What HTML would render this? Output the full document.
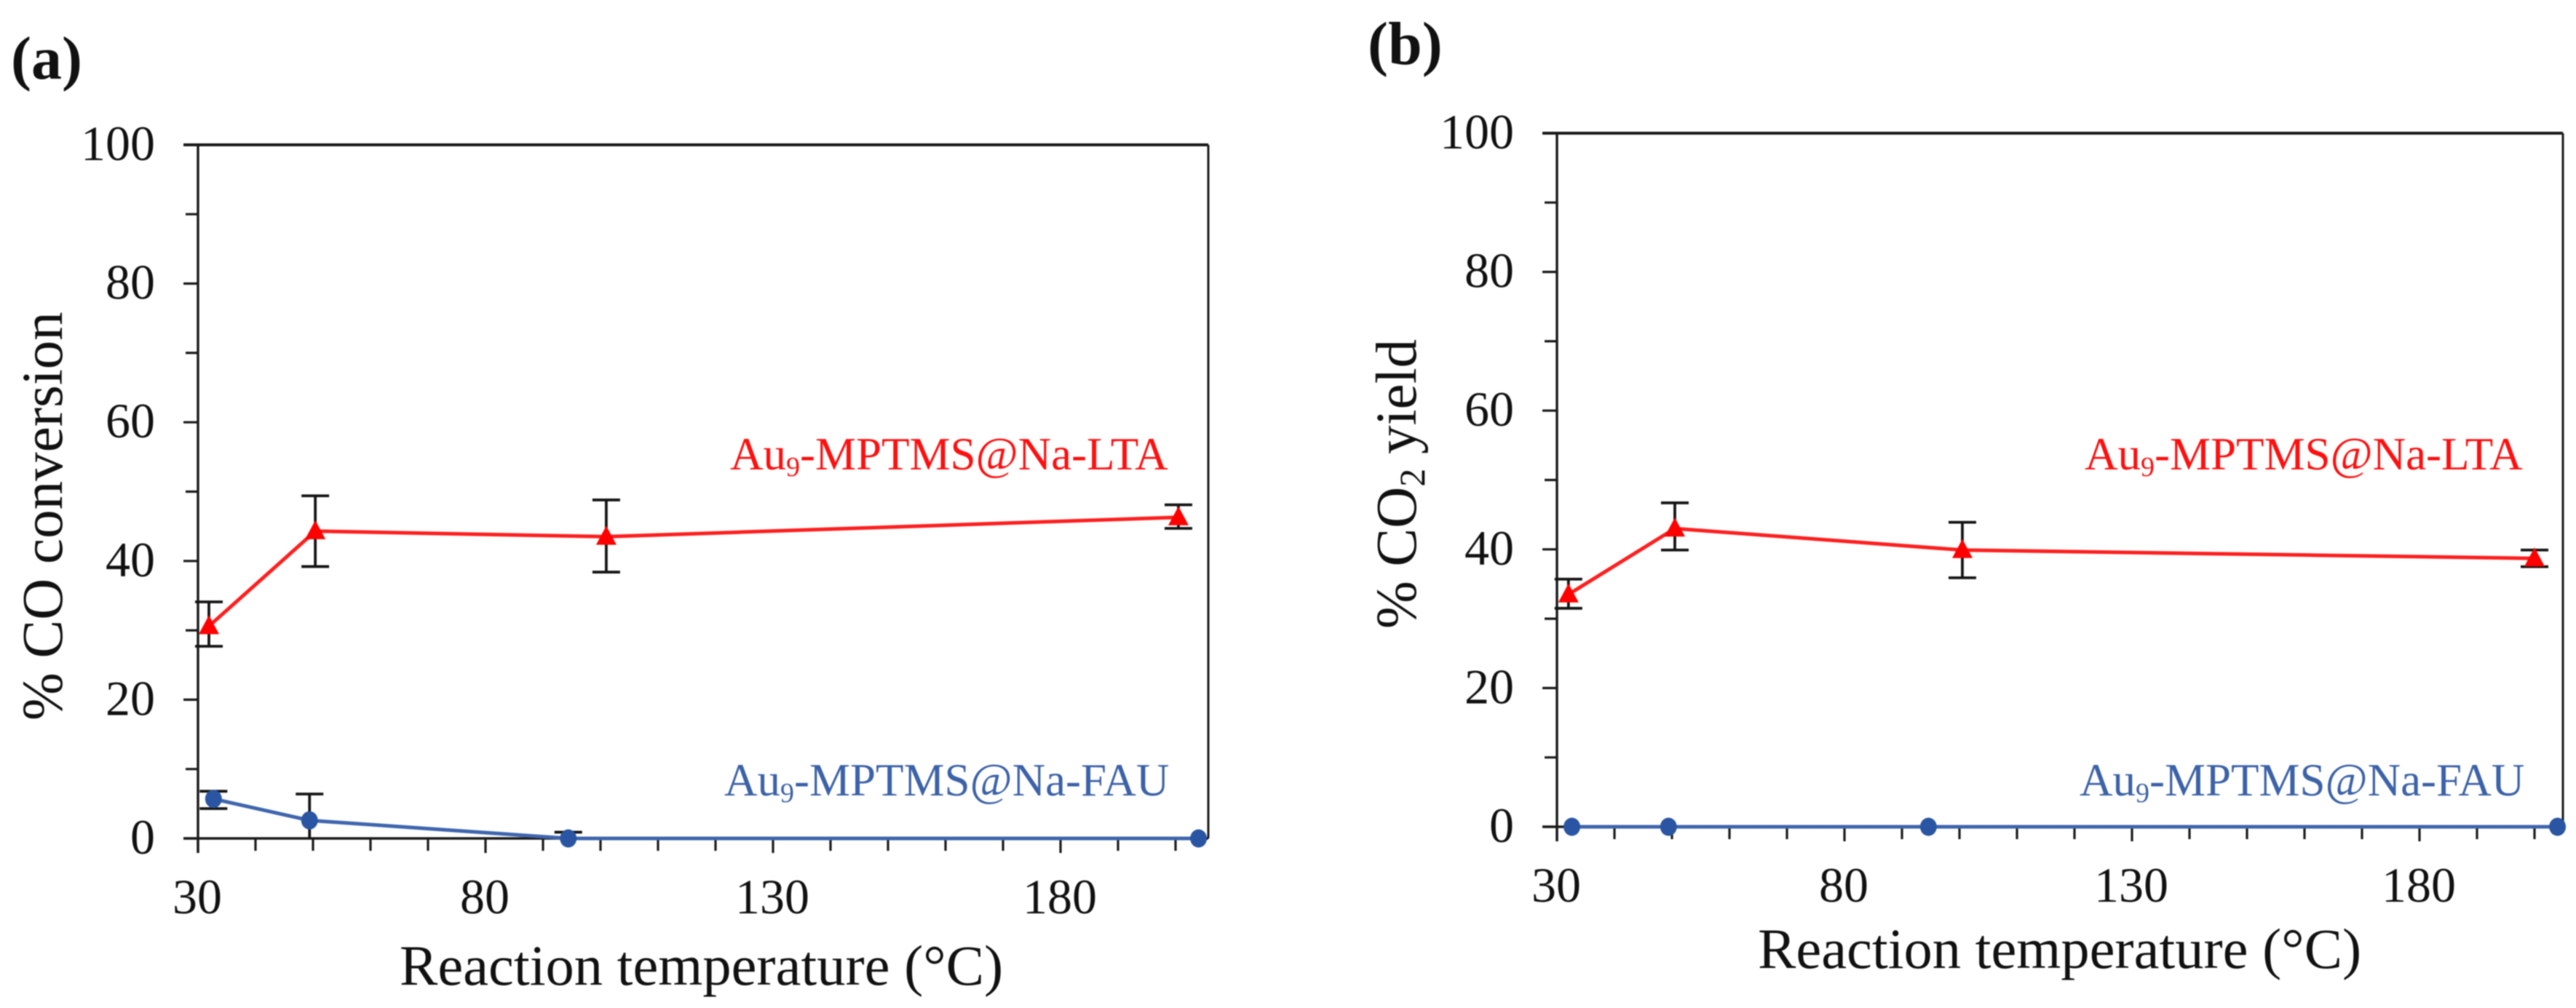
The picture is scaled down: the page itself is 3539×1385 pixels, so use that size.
<!DOCTYPE html>
<html lang="en">
<head>
<meta charset="utf-8">
<title>CO conversion and CO2 yield versus reaction temperature</title>
<style>
html,body{margin:0;padding:0;background:#fff;width:3539px;height:1385px;overflow:hidden}
svg{display:block;filter:blur(0.9px)}
text{font-family:"Liberation Serif","Times New Roman",serif;fill:#111}
</style>
</head>
<body>
<svg id="figure" xmlns="http://www.w3.org/2000/svg" width="3539" height="1385" viewBox="0 0 3539 1385">
  <rect x="0" y="0" width="3539" height="1385" fill="#fff"/>
  <text x="15" y="108" font-size="84" font-weight="700">(a)</text>
  <text x="1879" y="88" font-size="84" font-weight="700">(b)</text>

  <text transform="translate(85,990) rotate(-90)" font-size="79">% CO conversion</text>
  <text transform="translate(1945,864) rotate(-90)" font-size="79">% CO<tspan dy="12" font-size="50">2</tspan><tspan dy="-12"> yield</tspan></text>

  <text x="549" y="1353" font-size="78.5">Reaction temperature (°C)</text>
  <text x="2415" y="1330" font-size="78.5">Reaction temperature (°C)</text>

  <text x="1003" y="645" font-size="63" style="fill:#ff1010">Au<tspan dy="9" font-size="38" style="fill:#ff1010">9</tspan><tspan dy="-9" style="fill:#ff1010">-MPTMS@Na-LTA</tspan></text>
  <text x="995" y="1093" font-size="63" style="fill:#3c62a8">Au<tspan dy="9" font-size="38" style="fill:#3c62a8">9</tspan><tspan dy="-9" style="fill:#3c62a8">-MPTMS@Na-FAU</tspan></text>
  <text x="2864" y="645" font-size="63" style="fill:#ff1010">Au<tspan dy="9" font-size="38" style="fill:#ff1010">9</tspan><tspan dy="-9" style="fill:#ff1010">-MPTMS@Na-LTA</tspan></text>
  <text x="2857" y="1093" font-size="63" style="fill:#3c62a8">Au<tspan dy="9" font-size="38" style="fill:#3c62a8">9</tspan><tspan dy="-9" style="fill:#3c62a8">-MPTMS@Na-FAU</tspan></text>
</svg>
<script>
// Shared axis labels
const xTickLabels = [30, 80, 130, 180];
const yTickLabels = [0, 20, 40, 60, 80, 100];

// Panel (a): CO conversion
const aLtaTemp  = [31.9, 50.4, 101, 200.5];
const aLtaValue = [30.6, 44.3, 43.5, 46.3];
const aLtaUpper = [34.1, 49.4, 48.8, 48.1];
const aLtaLower = [27.7, 39.2, 38.4, 44.7];
const aFauTemp  = [32.7, 49.4, 94.4, 204];
const aFauValue = [5.7, 2.6, 0, 0];
const aFauUpper = [6.8, 6.4, 0.9, 0];
const aFauLower = [4.3, 0, 0, 0];

// Panel (b): CO2 yield
const bLtaTemp  = [32, 50.5, 100.5, 200];
const bLtaValue = [33.5, 43, 39.9, 38.7];
const bLtaUpper = [35.7, 46.7, 43.9, 39.9];
const bLtaLower = [31.5, 39.9, 35.9, 37.5];
const bFauTemp  = [32.6, 49.4, 94.6, 204];
const bFauValue = [0, 0, 0, 0];

const svgNS = 'http://www.w3.org/2000/svg';
const root = document.getElementById('figure');

function draw(tag, attrs, name) {
  const el = document.createElementNS(svgNS, tag);
  for (const k in attrs) el.setAttribute(k, attrs[k]);
  
  
  root.appendChild(el);
  return el;
}

function makePanel(key, left, right, top, zero) {
  const sx = 7.9;
  const sy = (zero - top) / 100;
  const xScale = t => left + (t - 30) * sx;
  const yScale = v => zero - v * sy;

  // y ticks
  for (let v = 0; v <= 100; v += 10) {
    const major = v % 20 === 0;
    draw('line', {x1: left - (major ? 20 : 17), x2: left, y1: yScale(v), y2: yScale(v), stroke: '#1a1a1a', 'stroke-width': 3.2}, 'y-tick-' + key + '-' + v);
  }
  yTickLabels.forEach(v => {
    const t = draw('text', {x: left - 59, y: yScale(v) + 21, 'font-size': 68, 'text-anchor': 'end'}, 'y-tick-label-' + key + '-' + v);
    t.textContent = v;
  });

  // x ticks
  for (let t = 30; (t - 30) * sx + left <= right + 1; t += 10) {
    const major = (t - 30) % 50 === 0;
    draw('line', {x1: xScale(t), x2: xScale(t), y1: zero, y2: zero + (major ? 20 : 17), stroke: '#1a1a1a', 'stroke-width': 3.2}, 'x-tick-' + key + '-' + t);
  }
  xTickLabels.forEach(v => {
    const t = draw('text', {x: xScale(v) - 1, y: zero + 103, 'font-size': 68, 'text-anchor': 'middle'}, 'x-tick-label-' + key + '-' + v);
    t.textContent = v;
  });

  // frame
  draw('line', {x1: left - 20, x2: right, y1: top, y2: top, stroke: '#1a1a1a', 'stroke-width': 4}, 'top-border-' + key);
  draw('line', {x1: right, x2: right, y1: top, y2: zero, stroke: '#1a1a1a', 'stroke-width': 3}, 'right-border-' + key);
  draw('line', {x1: left, x2: left, y1: top, y2: zero + 20, stroke: '#1a1a1a', 'stroke-width': 3.4}, 'y-axis-' + key);
  draw('line', {x1: left - 20, x2: right, y1: zero, y2: zero, stroke: '#1a1a1a', 'stroke-width': 3.5}, 'x-axis-' + key);

  return {xScale, yScale};
}

function errorBars(scale, key, temps, upper, lower) {
  temps.forEach((t, i) => {
    if (upper[i] === lower[i]) return;
    const x = scale.xScale(t), yU = scale.yScale(upper[i]), yL = scale.yScale(lower[i]);
    draw('line', {x1: x, x2: x, y1: yU, y2: yL, stroke: '#151515', 'stroke-width': 3.8}, 'error-bar-' + key + '-' + i);
    draw('line', {x1: x - 19, x2: x + 19, y1: yU, y2: yU, stroke: '#151515', 'stroke-width': 3.8}, 'error-cap-upper-' + key + '-' + i);
    if (lower[i] > 0) {
      draw('line', {x1: x - 19, x2: x + 19, y1: yL, y2: yL, stroke: '#151515', 'stroke-width': 3.8}, 'error-cap-lower-' + key + '-' + i);
    }
  });
}

function seriesLine(scale, key, temps, values, color) {
  const pts = temps.map((t, i) => scale.xScale(t).toFixed(1) + ',' + scale.yScale(values[i]).toFixed(1)).join(' ');
  draw('polyline', {points: pts, fill: 'none', stroke: color, 'stroke-width': 5, 'stroke-linejoin': 'round'}, 'series-line-' + key);
}

function triangles(scale, key, temps, values) {
  temps.forEach((t, i) => {
    const x = scale.xScale(t), y = scale.yScale(values[i]);
    const pts = [[x, y - 15], [x + 14, y + 11], [x - 14, y + 11]].map(p => p.join(',')).join(' ');
    draw('polygon', {points: pts, fill: '#ff0000'}, 'marker-' + key + '-' + i);
  });
}

function circles(scale, key, temps, values) {
  temps.forEach((t, i) => {
    draw('ellipse', {cx: scale.xScale(t), cy: scale.yScale(values[i]), rx: 11.5, ry: 12.5, fill: '#2a55a3'}, 'marker-' + key + '-' + i);
  });
}

const panelA = makePanel('a', 272, 1660, 199, 1152);
errorBars(panelA, 'lta-a', aLtaTemp, aLtaUpper, aLtaLower);
errorBars(panelA, 'fau-a', aFauTemp, aFauUpper, aFauLower);
seriesLine(panelA, 'fau-a', aFauTemp, aFauValue, '#3f66ae');
seriesLine(panelA, 'lta-a', aLtaTemp, aLtaValue, '#ff2020');
circles(panelA, 'fau-a', aFauTemp, aFauValue);
triangles(panelA, 'lta-a', aLtaTemp, aLtaValue);

const panelB = makePanel('b', 2139, 3521, 183, 1136);
errorBars(panelB, 'lta-b', bLtaTemp, bLtaUpper, bLtaLower);
seriesLine(panelB, 'fau-b', bFauTemp, bFauValue, '#3f66ae');
seriesLine(panelB, 'lta-b', bLtaTemp, bLtaValue, '#ff2020');
circles(panelB, 'fau-b', bFauTemp, bFauValue);
triangles(panelB, 'lta-b', bLtaTemp, bLtaValue);
</script>
</body>
</html>
